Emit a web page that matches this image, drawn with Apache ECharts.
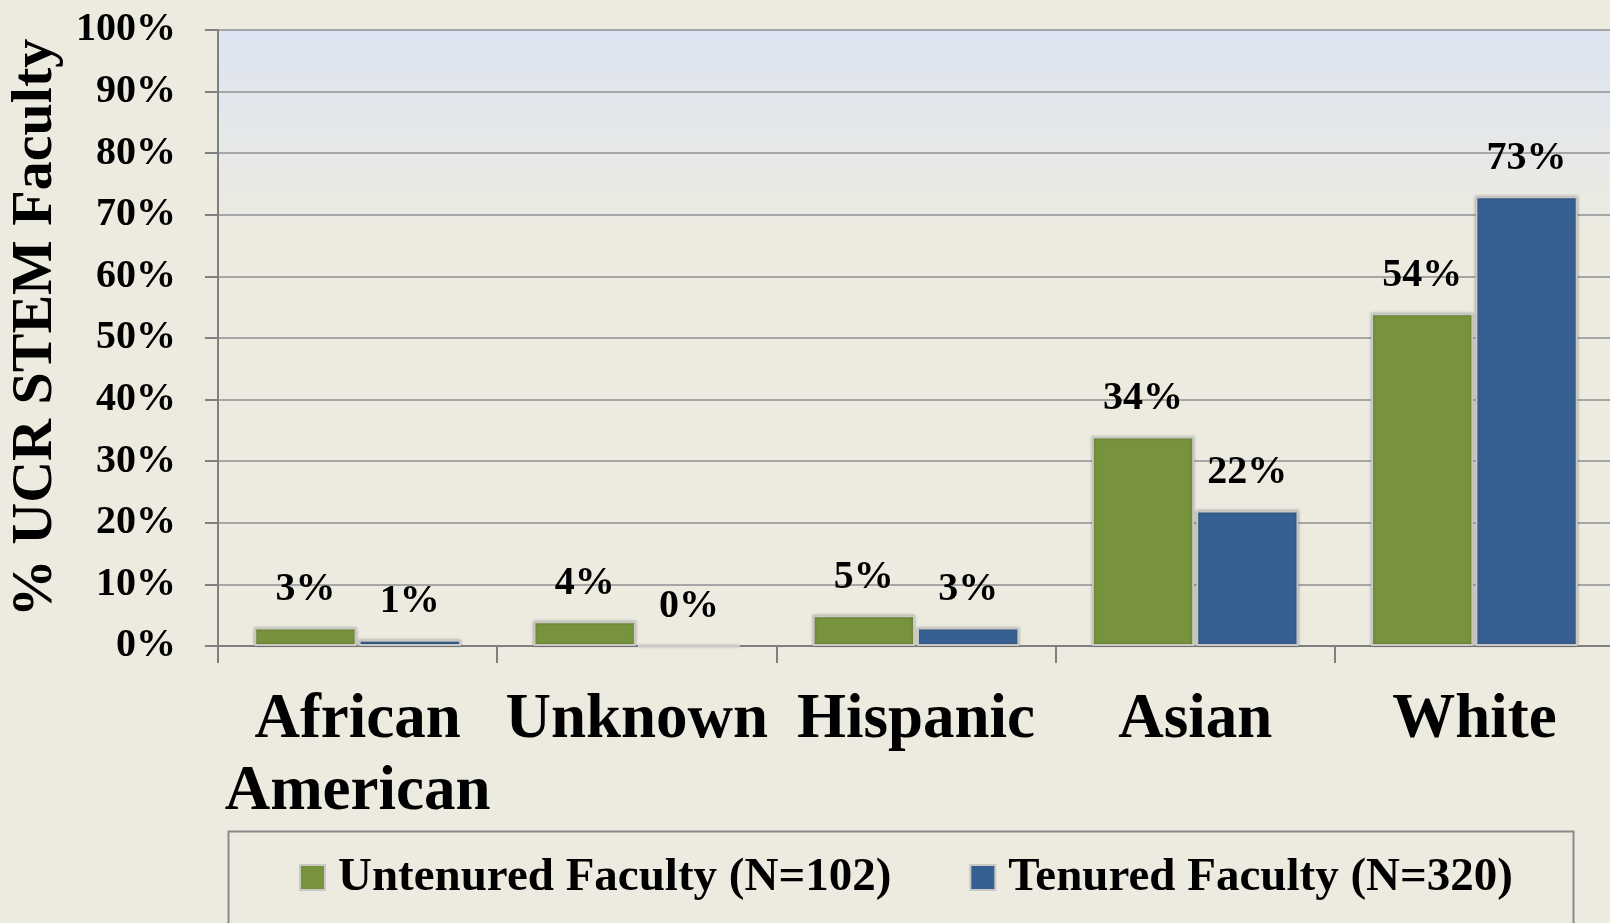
<!DOCTYPE html>
<html>
<head>
<meta charset="utf-8">
<script src="https://cdn.jsdelivr.net/npm/echarts@6/dist/echarts.min.js"></script>
<style>
  html, body { margin: 0; padding: 0; background: #EDEBE0; }
  #facultyChart { width: 1610px; height: 923px; }
</style>
</head>
<body>
<div id="facultyChart"></div>
<script>
var categories = ['African\nAmerican', 'Unknown', 'Hispanic', 'Asian', 'White']
var untenured = [3, 4, 5, 34, 54]
var tenured = [1, 0, 3, 22, 73]
var seriesNames = ['Untenured Faculty (N=102)', 'Tenured Faculty (N=320)']
var yTicks = [0, 10, 20, 30, 40, 50, 60, 70, 80, 90, 100]

var serif = 'Liberation Serif'
var chart = echarts.init(document.getElementById('facultyChart'));

var barLabel = {
    show: true,
    position: 'top',
    distance: 18,
    formatter: '{c}%',
    fontFamily: serif,
    fontWeight: 'bold',
    fontSize: 40,
    color: '#000'
}

var option = {
    backgroundColor: '#EDEBE0',
    animation: false,
    grid: {
        left: 218,
        top: 30,
        width: 1396,
        height: 616,
        outerBoundsMode: 'none',
        containLabel: false,
        show: true,
        borderWidth: 0,
        backgroundColor: new echarts.graphic.LinearGradient(0, 0, 0, 1, [
            { offset: 0, color: '#DDE4F2' },
            { offset: 0.33, color: '#EDEBE0' },
            { offset: 1, color: '#EDEBE0' }
        ])
    },
    xAxis: {
        type: 'category',
        data: categories,
        boundaryGap: true,
        axisLine: { lineStyle: { color: '#7f7f7f', width: 2 } },
        axisTick: { show: true, length: 17, lineStyle: { color: '#7f7f7f', width: 2 } },
        axisLabel: {
            margin: 39,
            fontFamily: serif,
            fontWeight: 'bold',
            fontSize: 63,
            lineHeight: 72,
            color: '#000',
            interval: 0
        }
    },
    yAxis: {
        type: 'value',
        min: yTicks[0],
        max: yTicks[yTicks.length - 1],
        interval: 10,
        name: '% UCR STEM Faculty',
        nameLocation: 'middle',
        nameGap: 135,
        nameTextStyle: {
            fontFamily: serif,
            fontWeight: 'bold',
            fontSize: 58,
            color: '#000',
            padding: [0, 0, 0, 20]
        },
        axisLine: { show: true, lineStyle: { color: '#7f7f7f', width: 2 } },
        axisTick: { show: true, length: 13, lineStyle: { color: '#7f7f7f', width: 2 } },
        splitLine: { lineStyle: { color: '#a6a6a6', width: 2 } },
        axisLabel: {
            margin: 42,
            formatter: '{value}%',
            fontFamily: serif,
            fontWeight: 'bold',
            fontSize: 40,
            color: '#000'
        }
    },
    legend: {
        left: 294,
        top: 849,
        itemWidth: 25,
        itemHeight: 25,
        itemGap: 78,
        icon: 'rect',
        textStyle: {
            fontFamily: serif,
            fontWeight: 'bold',
            fontSize: 47,
            color: '#000',
            padding: [0, 0, 0, 8]
        },
        data: seriesNames
    },
    graphic: [
        {
            type: 'rect',
            left: 226,
            top: 829,
            shape: { width: 1345, height: 110 },
            style: { fill: 'none', stroke: '#8a8a8a', lineWidth: 2 },
            z: 0
        }
    ],
    series: [
        {
            name: seriesNames[0],
            type: 'bar',
            data: untenured,
            barCategoryGap: '26%',
            barGap: '2%',
            itemStyle: {
                color: '#77933C',
                borderColor: '#c8c8c4',
                borderWidth: 2,
                shadowColor: 'rgba(0,0,0,0.25)',
                shadowBlur: 3
            },
            label: barLabel
        },
        {
            name: seriesNames[1],
            type: 'bar',
            data: tenured,
            itemStyle: {
                color: '#376092',
                borderColor: '#c8c8c4',
                borderWidth: 2,
                shadowColor: 'rgba(0,0,0,0.25)',
                shadowBlur: 3
            },
            label: barLabel
        }
    ]
};
chart.setOption(option);
</script>
</body>
</html>
